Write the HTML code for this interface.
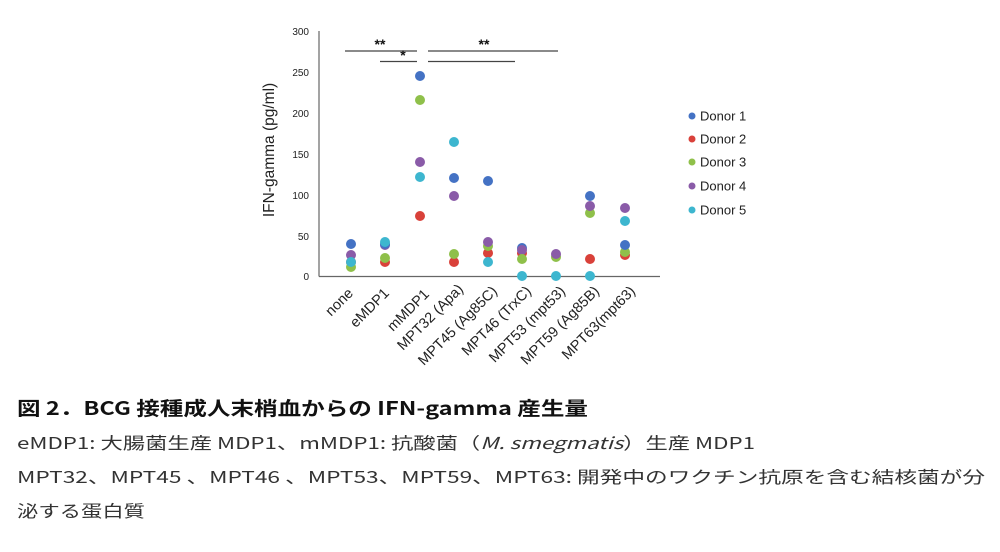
<!DOCTYPE html>
<html><head><meta charset="utf-8"><style>
html,body{margin:0;padding:0;background:#fff;}
svg{display:block;}
</style></head><body>
<svg width="1000" height="552" viewBox="0 0 1000 552" xmlns="http://www.w3.org/2000/svg" font-family="Liberation Sans, Noto Sans CJK JP, sans-serif">
<rect width="1000" height="552" fill="#fff"/>
<line x1="319" y1="31" x2="319" y2="276.5" stroke="#666" stroke-width="1.2"/>
<line x1="319" y1="276.5" x2="660" y2="276.5" stroke="#666" stroke-width="1.2"/>
<g font-size="10" fill="#222" text-anchor="end">
<text x="309" y="35">300</text>
<text x="309" y="76">250</text>
<text x="309" y="117">200</text>
<text x="309" y="158">150</text>
<text x="309" y="199">100</text>
<text x="309" y="240">50</text>
<text x="309" y="280">0</text>
</g>
<text transform="translate(274,150) rotate(-90)" font-size="15.5" text-anchor="middle" fill="#222">IFN-gamma (pg/ml)</text>
<g font-size="14.5" fill="#222" text-anchor="end">
<text transform="translate(354,294) rotate(-45)">none</text>
<text transform="translate(390,294) rotate(-45)">eMDP1</text>
<text transform="translate(430,295) rotate(-45)">mMDP1</text>
<text transform="translate(464,290) rotate(-45)">MPT32 (Apa)</text>
<text transform="translate(498,292) rotate(-45)">MPT45 (Ag85C)</text>
<text transform="translate(532,292) rotate(-45)">MPT46 (TrxC)</text>
<text transform="translate(566,292) rotate(-45)">MPT53 (mpt53)</text>
<text transform="translate(600,292) rotate(-45)">MPT59 (Ag85B)</text>
<text transform="translate(636,292) rotate(-45)">MPT63(mpt63)</text>
</g>
<g stroke="#444" stroke-width="1.3">
<line x1="345" y1="51" x2="417" y2="51"/>
<line x1="380" y1="61.5" x2="417" y2="61.5"/>
<line x1="428" y1="51" x2="558" y2="51"/>
<line x1="428" y1="61.5" x2="515" y2="61.5"/>
</g>
<g font-size="14" font-weight="bold" fill="#111" text-anchor="middle">
<text x="380" y="49">**</text>
<text x="403" y="60">*</text>
<text x="484" y="49">**</text>
</g>
<g>
<circle cx="351" cy="262" r="5" fill="#d9413a"/>
<circle cx="351" cy="267" r="5" fill="#8fc04a"/>
<circle cx="351" cy="255" r="5" fill="#8a5ba8"/>
<circle cx="351" cy="244" r="5" fill="#4472c4"/>
<circle cx="351" cy="262" r="5" fill="#3db6cf"/>
<circle cx="385" cy="262" r="5" fill="#d9413a"/>
<circle cx="385" cy="258" r="5" fill="#8fc04a"/>
<circle cx="385" cy="245" r="5" fill="#8a5ba8"/>
<circle cx="385" cy="244" r="5" fill="#4472c4"/>
<circle cx="385" cy="242" r="5" fill="#3db6cf"/>
<circle cx="420" cy="216" r="5" fill="#d9413a"/>
<circle cx="420" cy="100" r="5" fill="#8fc04a"/>
<circle cx="420" cy="162" r="5" fill="#8a5ba8"/>
<circle cx="420" cy="76" r="5" fill="#4472c4"/>
<circle cx="420" cy="177" r="5" fill="#3db6cf"/>
<circle cx="454" cy="262" r="5" fill="#d9413a"/>
<circle cx="454" cy="254" r="5" fill="#8fc04a"/>
<circle cx="454" cy="196" r="5" fill="#8a5ba8"/>
<circle cx="454" cy="178" r="5" fill="#4472c4"/>
<circle cx="454" cy="142" r="5" fill="#3db6cf"/>
<circle cx="488" cy="253" r="5" fill="#d9413a"/>
<circle cx="488" cy="246" r="5" fill="#8fc04a"/>
<circle cx="488" cy="242" r="5" fill="#8a5ba8"/>
<circle cx="488" cy="181" r="5" fill="#4472c4"/>
<circle cx="488" cy="262" r="5" fill="#3db6cf"/>
<circle cx="522" cy="253" r="5" fill="#d9413a"/>
<circle cx="522" cy="248" r="5" fill="#4472c4"/>
<circle cx="522" cy="250" r="5" fill="#8a5ba8"/>
<circle cx="522" cy="259" r="5" fill="#8fc04a"/>
<circle cx="522" cy="276" r="5" fill="#3db6cf"/>
<circle cx="556" cy="257" r="5" fill="#8fc04a"/>
<circle cx="556" cy="254" r="5" fill="#8a5ba8"/>
<circle cx="556" cy="276" r="5" fill="#3db6cf"/>
<circle cx="590" cy="259" r="5" fill="#d9413a"/>
<circle cx="590" cy="196" r="5" fill="#4472c4"/>
<circle cx="590" cy="213" r="5" fill="#8fc04a"/>
<circle cx="590" cy="206" r="5" fill="#8a5ba8"/>
<circle cx="590" cy="276" r="5" fill="#3db6cf"/>
<circle cx="625" cy="255" r="5" fill="#d9413a"/>
<circle cx="625" cy="252" r="5" fill="#8fc04a"/>
<circle cx="625" cy="245" r="5" fill="#4472c4"/>
<circle cx="625" cy="208" r="5" fill="#8a5ba8"/>
<circle cx="625" cy="221" r="5" fill="#3db6cf"/>
</g>
<g font-size="13" fill="#222">
<circle cx="692" cy="116" r="3.5" fill="#4472c4"/><text x="700" y="120.5">Donor 1</text>
<circle cx="692" cy="139" r="3.5" fill="#d9413a"/><text x="700" y="143.5">Donor 2</text>
<circle cx="692" cy="162" r="3.5" fill="#8fc04a"/><text x="700" y="166.5">Donor 3</text>
<circle cx="692" cy="186" r="3.5" fill="#8a5ba8"/><text x="700" y="190.5">Donor 4</text>
<circle cx="692" cy="210" r="3.5" fill="#3db6cf"/><text x="700" y="214.5">Donor 5</text>
</g>
<g font-family="Noto Sans CJK JP, sans-serif">
<text x="17" y="415" font-size="19" font-weight="bold" fill="#111" textLength="571" lengthAdjust="spacingAndGlyphs">図 2．BCG 接種成人末梢血からの IFN-gamma 産生量</text>
<g font-size="16.5" fill="#333">
<text x="17" y="449" textLength="738" lengthAdjust="spacingAndGlyphs">eMDP1: 大腸菌生産 MDP1、mMDP1: 抗酸菌（<tspan font-style="italic">M. smegmatis</tspan>）生産 MDP1</text>
<text x="17" y="483" textLength="968" lengthAdjust="spacingAndGlyphs">MPT32、MPT45 、MPT46 、MPT53、MPT59、MPT63: 開発中のワクチン抗原を含む結核菌が分</text>
<text x="17" y="517" textLength="128" lengthAdjust="spacingAndGlyphs">泌する蛋白質</text>
</g>
</g>
</svg>
</body></html>
